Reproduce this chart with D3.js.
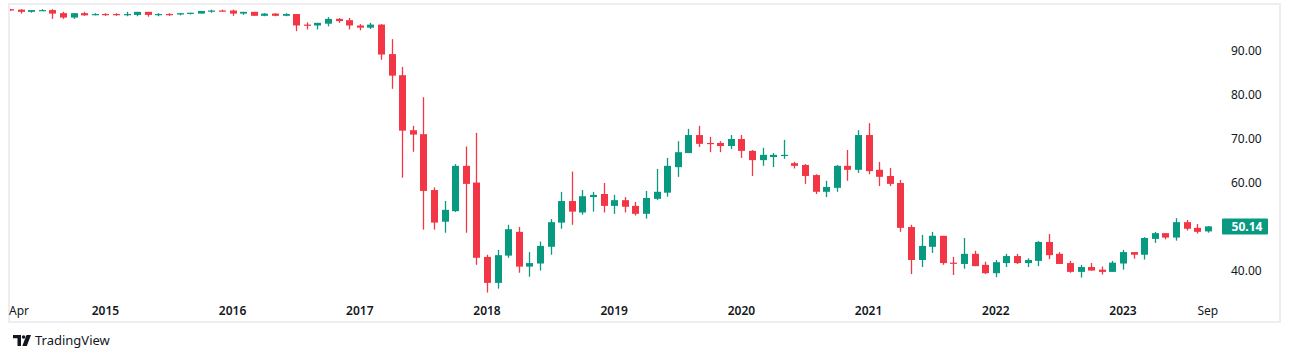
<!DOCTYPE html>
<html><head><meta charset="utf-8">
<script src="https://cdn.jsdelivr.net/npm/d3@7"></script>
<style>
html,body{margin:0;padding:0;background:#fff;}
svg{display:block;font-family:"Noto Sans",sans-serif;}
</style></head>
<body>
<svg id="chart" width="1290" height="359"></svg>
<script>
// Monthly OHLC, Apr 2014 .. Sep 2023
const startMonth = new Date(2014, 3, 1);
const endMonth = new Date(2023, 9, 1);
const open  = [99.5,99.4,98.9,99.2,99.3,98.6,97.6,98.6,98.3,98.4,98.4,98.2,98.2,98.9,98.2,98.4,98.3,98.6,98.5,99.0,99.2,99.2,98.5,98.9,98.0,98.5,98.0,98.4,96.0,95.8,96.2,97.3,97.0,95.8,95.3,96.0,89.3,84.5,72.0,71.1,58.4,51.2,53.6,63.9,60.1,43.2,37.3,43.5,48.9,41.0,41.7,45.5,51.0,55.9,53.3,56.8,57.5,54.8,56.1,54.8,53.0,56.4,57.8,63.6,66.8,70.9,69.1,69.1,68.4,70.0,67.3,65.2,65.9,66.2,64.5,64.1,61.8,58.0,58.9,63.9,63.0,70.9,63.0,61.6,60.0,50.0,42.5,45.5,48.0,41.9,41.6,43.9,41.4,39.5,41.8,43.4,41.8,42.3,46.6,43.9,41.8,39.8,40.9,40.3,39.8,41.7,44.3,43.7,47.3,48.6,47.6,51.1,49.8,49.0];
const high  = [99.6,99.5,99.3,99.5,99.5,98.9,98.6,98.9,98.6,98.6,98.6,98.9,98.9,98.9,98.6,98.6,98.6,98.7,99.1,99.4,99.4,99.4,98.9,98.9,98.6,98.6,98.6,98.4,96.5,96.4,97.7,97.5,97.5,96.1,96.4,96.1,92.7,86.4,73.0,79.5,59.0,55.9,64.3,68.3,71.4,43.7,44.8,50.5,50.0,44.3,46.7,51.8,58.0,62.6,58.4,58.0,60.0,57.3,56.8,55.7,58.2,63.2,65.7,69.5,72.3,73.0,70.5,69.5,70.9,70.9,67.5,68.0,66.8,69.8,64.8,64.3,62.0,60.5,64.1,67.5,72.0,73.6,64.8,63.4,60.7,50.5,48.2,48.9,48.0,43.2,47.5,44.6,42.1,42.5,43.9,43.9,42.9,46.8,48.4,44.3,42.3,41.4,41.8,41.0,42.3,44.8,44.3,47.7,48.9,48.6,52.0,51.6,50.7,50.2];
const low   = [99.1,98.5,98.7,99.2,97.3,97.3,97.3,98.0,98.1,98.0,98.0,97.9,97.9,97.8,97.9,98.0,98.1,98.3,98.5,98.7,99.0,98.0,98.2,98.0,97.9,97.9,97.9,94.5,94.9,94.9,95.6,96.4,94.9,94.7,95.0,88.0,81.4,61.2,67.1,49.4,49.4,48.7,53.4,48.7,41.4,35.1,36.0,43.0,39.6,38.7,40.1,43.7,49.6,50.5,52.8,53.5,53.3,53.0,53.3,52.6,51.9,56.1,56.9,61.4,66.8,68.2,67.0,67.0,67.7,65.7,61.6,63.9,63.6,65.5,63.3,59.8,57.5,56.8,58.0,60.5,62.3,62.0,59.3,59.3,48.9,39.3,40.9,44.1,41.4,39.1,40.5,41.1,39.3,38.6,40.9,41.6,40.9,41.1,42.7,41.6,39.6,38.5,40.1,39.2,39.8,40.3,42.8,42.6,46.4,47.2,46.9,49.2,48.5,48.7];
const close = [99.2,98.9,99.3,99.3,98.5,97.6,98.6,98.1,98.4,98.2,98.2,98.4,98.9,98.2,98.4,98.2,98.6,98.7,99.1,99.2,99.1,98.5,98.9,98.0,98.5,98.0,98.4,95.8,95.8,96.4,97.3,96.8,95.8,95.3,96.0,89.2,84.4,71.9,71.0,58.2,51.0,53.9,63.9,59.8,43.0,37.3,43.6,49.5,41.0,41.8,45.7,51.1,55.9,53.5,57.0,57.3,54.8,56.1,54.6,53.0,56.6,58.0,63.9,67.0,70.9,68.9,68.9,68.4,70.0,67.3,65.2,66.4,66.4,66.4,63.9,61.6,58.0,59.1,63.9,63.0,70.9,62.7,61.4,59.8,49.8,42.5,45.7,48.0,41.8,41.7,43.9,41.1,39.5,42.0,43.4,41.8,42.5,46.6,43.6,41.6,39.8,40.9,40.1,39.8,41.9,44.3,43.7,47.5,48.6,47.6,51.1,49.6,48.9,50.14];
const priceTicks = [40, 60, 70, 80, 90];
const timeTickDates = ["2014-04","2015-01","2016-01","2017-01","2018-01","2019-01","2020-01","2021-01","2022-01","2023-01","2023-09"];
const timeTickLabels = ["Apr","2015","2016","2017","2018","2019","2020","2021","2022","2023","Sep"];
const lastPriceLabel = "50.14";

const fmtM = d3.timeFormat("%Y-%m");
const months = d3.timeMonth.range(startMonth, endMonth).map(fmtM);
const data = months.map((m, i) => ({m, o: open[i], h: high[i], l: low[i], c: close[i]}));

const UP = "#089981", DOWN = "#F23645", TXT = "#131722";
const svg = d3.select("#chart");

const x = d3.scalePoint().domain(months).range([10, 1207.8]);
const y = d3.scaleLinear().domain([40, 90]).range([271, 51]);

// frame
svg.append("rect").attr("x", 9).attr("y", 4).attr("width", 1271).attr("height", 318)
  .attr("fill", "none").attr("stroke", "#eeeef2").attr("stroke-width", 2);

svg.append("clipPath").attr("id", "plot").append("rect")
  .attr("x", 10).attr("y", 5).attr("width", 1210).attr("height", 290);

const g = svg.append("g").attr("clip-path", "url(#plot)");
const bw = 7;
const candles = g.selectAll("g.c").data(data).join("g").attr("class", "c");
candles.append("line")
  .attr("x1", d => Math.round(x(d.m)) + 0.5).attr("x2", d => Math.round(x(d.m)) + 0.5)
  .attr("y1", d => y(d.h)).attr("y2", d => y(d.l))
  .attr("stroke", d => d.c >= d.o ? UP : DOWN).attr("stroke-width", 1.3);
candles.append("rect")
  .attr("x", d => Math.round(x(d.m)) + 0.5 - bw / 2)
  .attr("width", bw)
  .attr("y", d => y(Math.max(d.o, d.c)))
  .attr("height", d => Math.max(1.2, Math.abs(y(d.o) - y(d.c))))
  .attr("fill", d => d.c >= d.o ? UP : DOWN);

// price axis
const yAxis = d3.axisRight(y).tickValues(priceTicks).tickFormat(d3.format(".2f")).tickSize(0).tickPadding(0);
const ya = svg.append("g").attr("transform", "translate(1231,0)").call(yAxis);
ya.select(".domain").remove();
ya.selectAll("text").attr("fill", TXT).attr("font-size", 12).attr("font-family", "Noto Sans");

// last price label
const ly = y(close[close.length - 1]);
svg.append("rect").attr("x", 1222).attr("y", ly - 8).attr("width", 46).attr("height", 16).attr("fill", UP).attr("rx", 1);
svg.append("text").attr("x", 1247).attr("y", ly + 4.2).attr("text-anchor", "middle")
  .attr("fill", "#fff").attr("font-size", 12).attr("font-weight", 700).text(lastPriceLabel);

// time axis
const xa = svg.append("g");
timeTickDates.forEach((d, i) => {
  const lab = timeTickLabels[i];
  const isYear = /^\d{4}$/.test(lab);
  let px = x(d);
  if (i === 0) px = 19;
  xa.append("text").attr("x", px).attr("y", 314.5).attr("text-anchor", "middle")
    .attr("fill", TXT).attr("font-size", 12).attr("font-weight", isYear ? 600 : 400)
    .text(lab);
});

// footer logo
const logo = svg.append("g").attr("fill", TXT);
logo.append("path").attr("d", "M13 335 H21 V346 H17.5 V338.3 H13 Z");
logo.append("circle").attr("cx", 23.6).attr("cy", 337).attr("r", 1.8);
logo.append("path").attr("d", "M26.5 335 H31 L26.8 346 H22.3 Z");
svg.append("text").attr("x", 35).attr("y", 345).attr("fill", TXT).attr("font-size", 13)
  .attr("font-family", "Noto Sans").text("TradingView");
</script>
</body></html>
